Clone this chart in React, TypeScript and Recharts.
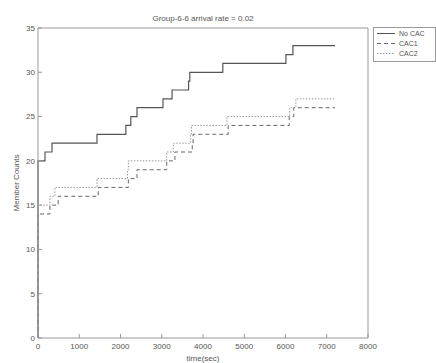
import { Line, LineChart, XAxis, YAxis } from "recharts"

const seriesNames = ["No CAC", "CAC1", "CAC2"]

// step times (sec) and member counts
const noCacTime = [0, 0, 170, 340, 1430, 2130, 2250, 2400, 3030, 3250, 3650, 3680, 4480, 6010, 6180, 7200]
const noCacCount = [0, 20, 21, 22, 23, 24, 25, 26, 27, 28, 29, 30, 31, 32, 33, 33]

const cac1Time = [0, 0, 290, 490, 1460, 2190, 2400, 3120, 3320, 3740, 3760, 4610, 6090, 6200, 7200]
const cac1Count = [0, 14, 15, 16, 17, 18, 19, 20, 21, 22, 23, 24, 25, 26, 26]

const cac2Time = [0, 0, 290, 410, 1430, 2170, 2190, 3120, 3280, 3700, 3720, 4580, 6100, 6250, 7200]
const cac2Count = [0, 15, 16, 17, 18, 19, 20, 21, 22, 23, 24, 25, 26, 27, 27]

const xTicks = [0, 1000, 2000, 3000, 4000, 5000, 6000, 7000, 8000]
const yTicks = [0, 5, 10, 15, 20, 25, 30, 35]

const toPoints = (t: number[], v: number[]) => t.map((time, i) => ({ t: time, count: v[i] }))

const styles = [
  { stroke: "#555", dash: undefined, width: 1.2 },
  { stroke: "#666", dash: "4 3", width: 1 },
  { stroke: "#999", dash: "1.5 1.5", width: 1 },
]

const font = "Liberation Sans"
const axisColor = "#999"
const textColor = "#555"
const tickStyle = { fill: textColor, fontSize: 8, fontFamily: font }

function LegendBox() {
  return (
    <svg width={63} height={35} style={{ display: "block", position: "absolute", left: 373, top: 27 }}>
      <rect x={0.5} y={0.5} width={62} height={34} fill="#fff" stroke={axisColor} />
      {seriesNames.map((name, i) => (
        <g key={name}>
          <line
            x1={4}
            x2={22}
            y1={6.5 + i * 10}
            y2={6.5 + i * 10}
            stroke={styles[i].stroke}
            strokeDasharray={styles[i].dash}
          />
          <text x={26} y={9 + i * 10} fontSize={7} fill={textColor} fontFamily={font}>
            {name}
          </text>
        </g>
      ))}
    </svg>
  )
}

export default function App() {
  const series = [
    toPoints(noCacTime, noCacCount),
    toPoints(cac1Time, cac1Count),
    toPoints(cac2Time, cac2Count),
  ]
  return (
    <div style={{ position: "absolute", left: 0, top: 0, width: 436, height: 363, background: "#fff" }}>
      <LineChart width={436} height={363} margin={{ top: 27, right: 67, bottom: 2, left: 0 }}>
        <XAxis
          dataKey="t"
          type="number"
          domain={[0, 8000]}
          ticks={xTicks}
          interval={0}
          height={23}
          stroke={axisColor}
          tickSize={-4}
          tickMargin={9}
          tick={tickStyle}
          label={{ value: "time(sec)", position: "insideBottom", offset: 0, fontSize: 8, fill: textColor, fontFamily: font }}
        />
        <XAxis
          xAxisId="top"
          dataKey="t"
          orientation="top"
          type="number"
          domain={[0, 8000]}
          ticks={xTicks}
          interval={0}
          height={1}
          stroke={axisColor}
          tickSize={-4}
          tick={false}
          label={{
            value: "Group-6-6 arrival rate = 0.02",
            position: "top",
            offset: 6,
            fontSize: 8,
            fill: textColor,
            fontFamily: font,
          }}
        />
        <YAxis
          type="number"
          domain={[0, 35]}
          ticks={yTicks}
          interval={0}
          width={38}
          stroke={axisColor}
          tickSize={-4}
          tickMargin={7}
          tick={tickStyle}
          label={{
            value: "Member Counts",
            angle: -90,
            position: "center",
            dx: -3,
            fontSize: 8,
            fill: textColor,
            fontFamily: font,
          }}
        />
        <YAxis
          yAxisId="right"
          orientation="right"
          type="number"
          domain={[0, 35]}
          ticks={yTicks}
          interval={0}
          width={1}
          stroke={axisColor}
          tickSize={-4}
          tick={false}
        />
        {/* invisible series so the box axes get drawn */}
        <Line
          xAxisId="top"
          yAxisId="right"
          data={series[0]}
          dataKey="count"
          stroke="none"
          dot={false}
          activeDot={false}
          legendType="none"
          isAnimationActive={false}
        />
        {series.map((data, i) => (
          <Line
            key={seriesNames[i]}
            name={seriesNames[i]}
            data={data}
            dataKey="count"
            type="stepAfter"
            stroke={styles[i].stroke}
            strokeWidth={styles[i].width}
            strokeDasharray={styles[i].dash}
            dot={false}
            activeDot={false}
            isAnimationActive={false}
          />
        ))}
      </LineChart>
      <LegendBox />
    </div>
  )
}
